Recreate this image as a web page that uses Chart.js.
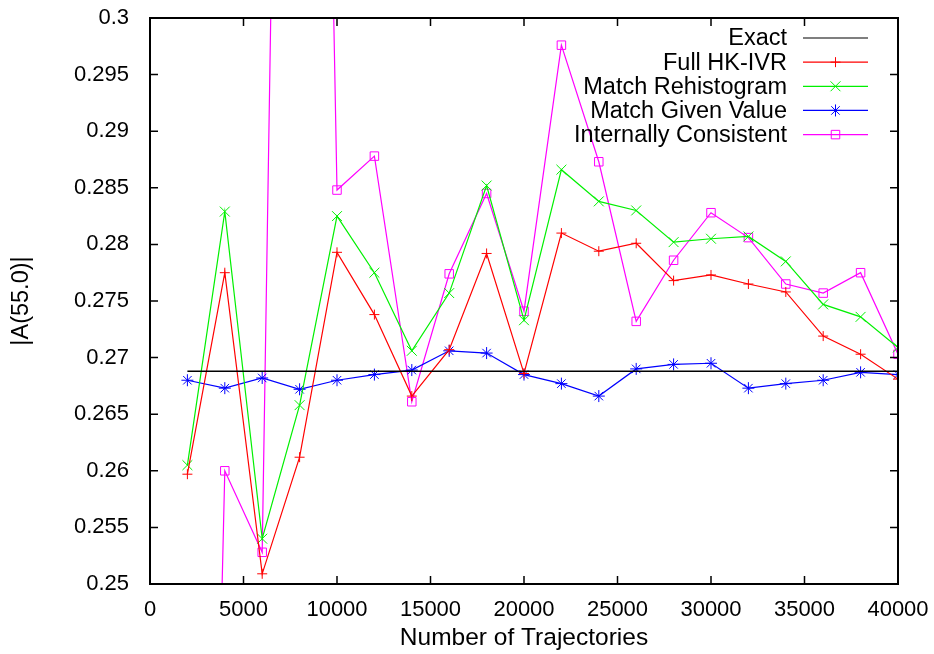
<!DOCTYPE html>
<html>
<head>
<meta charset="utf-8">
<script src="https://cdn.jsdelivr.net/npm/chart.js@4.4.1/dist/chart.umd.min.js"></script>
<style>
  html, body { margin: 0; padding: 0; background: #fff; }
  #wrap { width: 934px; height: 654px; }
</style>
</head>
<body>
<div id="wrap"><canvas id="chart" width="934" height="654"></canvas></div>
<script>
// values
const trajectories = [2000, 4000, 6000, 8000, 10000, 12000, 14000, 16000, 18000, 20000,
                      22000, 24000, 26000, 28000, 30000, 32000, 34000, 36000, 38000, 40000];
const exactValue = 0.26879;
const fullHK = [0.2597, 0.2775, 0.2509, 0.2612, 0.2793, 0.2738, 0.2666, 0.2707, 0.2792, 0.2686,
                0.2810, 0.2794, 0.2801, 0.2768, 0.2773, 0.2765, 0.2758, 0.2719, 0.2703, 0.2681];
const matchRehist = [0.2605, 0.2829, 0.2540, 0.2658, 0.2825, 0.2775, 0.2706, 0.2757, 0.2852, 0.2733,
                     0.2866, 0.2838, 0.2830, 0.2802, 0.2805, 0.2807, 0.2785, 0.2747, 0.2736, 0.2709];
const matchGiven = [0.2680, 0.2673, 0.2682, 0.2672, 0.2680, 0.2685, 0.2689, 0.2706, 0.2704, 0.2685,
                    0.2677, 0.2666, 0.2690, 0.2694, 0.2695, 0.2673, 0.2677, 0.2680, 0.2687, 0.2685];
const internal = [0.12, 0.2600, 0.2528, 0.46, 0.2848, 0.2878, 0.2661, 0.2774, 0.2845, 0.2741,
                  0.2976, 0.2873, 0.2732, 0.2786, 0.2828, 0.2806, 0.2765, 0.2757, 0.2775, 0.2703];
const xTicks = [0, 5000, 10000, 15000, 20000, 25000, 30000, 35000, 40000];
const yTicks = [0.25, 0.255, 0.26, 0.265, 0.27, 0.275, 0.28, 0.285, 0.29, 0.295, 0.3];

const pts = arr => arr.map((v, i) => ({x: trajectories[i], y: v}));
const FONT = 'Liberation Sans, Arial, Helvetica, sans-serif';

// gnuplot style frame: thick border, inward ticks on all sides, legend top right
const framePlugin = {
  id: 'frame',
  afterDraw(chart) {
    const ctx = chart.ctx;
    const a = chart.chartArea;
    const xs = chart.scales.x, ys = chart.scales.y;
    ctx.save();
    ctx.strokeStyle = '#000';
    ctx.lineWidth = 1.5;
    ctx.beginPath();
    xTicks.forEach(t => {
      const px = xs.getPixelForValue(t);
      ctx.moveTo(px, a.bottom); ctx.lineTo(px, a.bottom - 8);
      ctx.moveTo(px, a.top); ctx.lineTo(px, a.top + 8);
    });
    yTicks.forEach(t => {
      const py = ys.getPixelForValue(t);
      ctx.moveTo(a.left, py); ctx.lineTo(a.left + 8, py);
      ctx.moveTo(a.right, py); ctx.lineTo(a.right - 8, py);
    });
    ctx.stroke();
    ctx.lineWidth = 2;
    ctx.strokeRect(a.left, a.top, a.right - a.left, a.bottom - a.top);

    // legend
    ctx.font = '23.5px ' + FONT;
    ctx.textAlign = 'right';
    ctx.textBaseline = 'middle';
    chart.data.datasets.forEach((ds, i) => {
      const y = 38 + i * 24.15;
      ctx.fillStyle = '#000';
      ctx.fillText(ds.label, 787, y + 1);
      ctx.strokeStyle = ds.borderColor;
      ctx.lineWidth = 1.2;
      ctx.beginPath();
      ctx.moveTo(803, y); ctx.lineTo(868, y);
      ctx.stroke();
      if (ds.pointRadius > 0) {
        ctx.lineWidth = 1;
        ctx.fillStyle = 'rgba(0,0,0,0)';
        Chart.helpers.drawPoint(ctx, {pointStyle: ds.pointStyle, radius: ds.pointRadius, borderWidth: 1, rotation: 0}, 835.5, y);
      }
    });
    ctx.restore();
  }
};

function series(label, data, color, style, r) {
  return {
    label: label,
    data: pts(data),
    borderColor: color,
    backgroundColor: 'rgba(0,0,0,0)',
    borderWidth: 1.2,
    pointStyle: style,
    pointRadius: r,
    pointHoverRadius: r,
    pointBorderWidth: 1,
    pointBorderColor: color,
    pointBackgroundColor: 'rgba(0,0,0,0)',
    tension: 0
  };
}

new Chart(document.getElementById('chart'), {
  type: 'line',
  data: {
    datasets: [
      {
        label: 'Exact',
        data: [{x: trajectories[0], y: exactValue}, {x: trajectories[trajectories.length - 1], y: exactValue}],
        borderColor: '#000',
        borderWidth: 1.5,
        pointRadius: 0,
        tension: 0
      },
      series('Full HK-IVR', fullHK, '#ff0000', 'cross', 5),
      series('Match Rehistogram', matchRehist, '#00f000', 'crossRot', 7),
      series('Match Given Value', matchGiven, '#0000ff', 'star', 6),
      series('Internally Consistent', internal, '#ff00ff', 'rect', 6)
    ]
  },
  options: {
    responsive: false,
    animation: false,
    events: [],
    layout: { padding: { top: 18, right: 36, left: 0, bottom: 0 } },
    plugins: { legend: { display: false }, tooltip: { enabled: false } },
    scales: {
      x: {
        type: 'linear',
        min: 0, max: 40000,
        grid: { display: false, drawTicks: false },
        border: { display: false },
        afterBuildTicks: s => { s.ticks = xTicks.map(v => ({value: v})); },
        afterFit: s => { s.height = 70; s.paddingLeft = 0; s.paddingRight = 0; },
        ticks: { color: '#000', padding: 13, maxRotation: 0, font: { family: FONT, size: 22 },
                 callback: v => String(v) },
        title: { display: true, text: 'Number of Trajectories', color: '#000',
                 font: { family: FONT, size: 24.5 }, padding: { top: 0, bottom: 1 } }
      },
      y: {
        type: 'linear',
        min: 0.25, max: 0.3,
        grid: { display: false, drawTicks: false },
        border: { display: false },
        afterBuildTicks: s => { s.ticks = yTicks.map(v => ({value: v})); },
        afterFit: s => { s.width = 150; s.paddingTop = 0; s.paddingBottom = 0; },
        ticks: { color: '#000', padding: 21, font: { family: FONT, size: 22 },
                 callback: v => String(Math.round(v * 1000) / 1000) },
        title: { display: true, text: '|A(55.0)|', color: '#000',
                 font: { family: FONT, size: 23.5 }, padding: { top: 7, bottom: 0 } }
      }
    }
  },
  plugins: [framePlugin]
});
</script>
</body>
</html>
